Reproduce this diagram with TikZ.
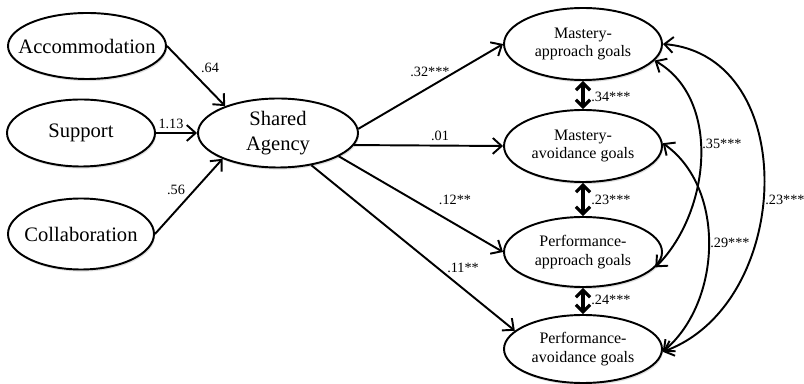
\documentclass[tikz,border=0pt]{standalone}
\usepackage{fontspec}
\setmainfont{Liberation Serif}
\usetikzlibrary{arrows.meta, shapes.geometric, shadows, positioning}

\tikzset{
    latent/.style={draw, ellipse, line width=1.1pt, fill=white, inner sep=0pt,
        minimum width=3.16cm, minimum height=1.4cm,
        drop shadow={opacity=0.25, shadow xshift=0.6pt, shadow yshift=-1.2pt}},
    bigtxt/.style={align=center, inner sep=0pt, font=\fontsize{11.7}{14.2}\selectfont},
    goaltxt/.style={align=center, inner sep=0pt, font=\fontsize{9.1}{10.8}\selectfont},
    coef/.style={inner sep=1pt, font=\fontsize{8.1}{9.5}\selectfont},
    reg/.style={line width=1.1pt, -{Straight Barb[length=5pt, width=9pt]}},
    cov/.style={line width=1.8pt, {Straight Barb[length=4pt, width=8pt]}-{Straight Barb[length=4pt, width=8pt]}},
    corr/.style={line width=1.1pt, {Straight Barb[length=5pt, width=9pt]}-{Straight Barb[length=5pt, width=9pt]}}
}

\begin{document}
\begin{tikzpicture}
    \useasboundingbox (0,0) rectangle (16.08,7.68);

    % predictors
    \node[latent, minimum width=3.16cm, minimum height=1.32cm, label={[bigtxt]center:Accommodation}] (acc) at (1.74,6.76) {};
    \node[latent, minimum width=2.96cm, minimum height=1.34cm, label={[bigtxt]center:Support}] (sup) at (1.62,5.02) {};
    \node[latent, minimum width=2.92cm, minimum height=1.42cm, label={[bigtxt]center:Collaboration}] (col) at (1.62,3.0) {};
    \node[latent, minimum width=3.2cm, minimum height=1.38cm, label={[bigtxt]center:Shared\\Agency}] (sa) at (5.56,5.02) {};

    % goals
    \node[latent, minimum height=1.44cm, label={[goaltxt]center:Mastery-\\approach goals}] (map) at (11.66,6.80) {};
    \node[latent, minimum height=1.44cm, label={[goaltxt]center:Mastery-\\avoidance goals}] (mav) at (11.66,4.76) {};
    \node[latent, minimum height=1.40cm, label={[goaltxt]center:Performance-\\approach goals}] (pap) at (11.66,2.64) {};
    \node[latent, minimum height=1.36cm, label={[goaltxt]center:Performance-\\avoidance goals}] (pav) at (11.66,0.70) {};

    % paths into shared agency
    \draw[reg] (acc.east) -- (sa.153);
    \draw[reg] (sup) -- (sa);
    \draw[reg] (col.east) -- (sa.205);

    % paths out of shared agency
    \draw[reg] (sa.3) -- (map.west);
    \draw[reg] (sa.-9) -- (mav.west);
    \draw[reg] (sa.-21) -- (pap.west);
    \draw[reg] (sa.-44) -- (pav.165);

    % covariances
    \draw[cov] (map) -- (mav);
    \draw[cov] (mav) -- (pap);
    \draw[cov] (pap) -- (pav);
    \draw[corr] (map.-13) to[out=-30, in=45, looseness=0.96] (pap.-12);
    \draw[corr] (mav.2) to[out=-35, in=40, looseness=0.95] (pav.-2);
    \draw[corr] (map.east) to[out=-5, in=20, looseness=1.16] (pav.-2);

    % coefficients
    \node[coef] (c64) at (4.2,6.32) {.64};
    \node[coef] (c113) at (3.42,5.2) {1.13};
    \node[coef] (c56) at (3.52,3.88) {.56};
    \node[coef] (c32) at (8.6,6.24) {.32***};
    \node[coef] (c01) at (8.8,4.96) {.01};
    \node[coef] (c12) at (9.1,3.68) {.12**};
    \node[coef] (c11) at (9.26,2.32) {.11**};
    \node[coef] (c34) at (12.22,5.74) {.34***};
    \node[coef] (c23a) at (12.22,3.68) {.23***};
    \node[coef] (c24) at (12.22,1.68) {.24***};
    \node[coef] (c35) at (14.44,4.8) {.35***};
    \node[coef] (c29) at (14.6,2.82) {.29***};
    \node[coef] (c23b) at (15.7,3.68) {.23***};
\end{tikzpicture}
\end{document}
